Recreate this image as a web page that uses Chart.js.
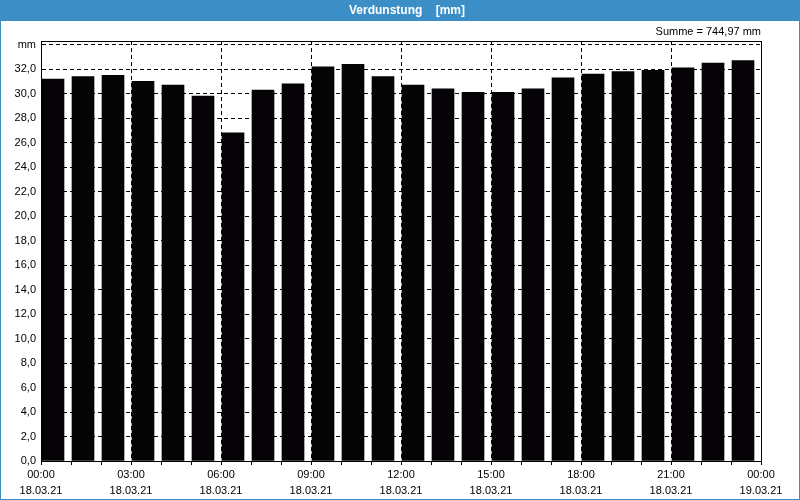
<!DOCTYPE html>
<html>
<head>
<meta charset="utf-8">
<script src="https://cdn.jsdelivr.net/npm/chart.js@4/dist/chart.umd.min.js"></script>
<style>
  html, body { margin: 0; padding: 0; background: #fff; }
  #wrap { width: 800px; height: 500px; position: relative; }
</style>
</head>
<body>
<div id="wrap"><canvas id="verdunstung" width="800" height="500"></canvas></div>
<script>
// hourly evaporation, 18.03.21 00:00 .. 23:00
const hours = [0, 1, 2, 3, 4, 5, 6, 7, 8, 9, 10, 11, 12, 13, 14, 15, 16, 17, 18, 19, 20, 21, 22, 23];
const values = [31.2, 31.4, 31.5, 31.0, 30.7, 29.8, 26.8, 30.3, 30.8, 32.2, 32.4, 31.4,
                30.7, 30.4, 30.1, 30.1, 30.4, 31.3, 31.6, 31.8, 31.9, 32.1, 32.5, 32.7];

const tickHours = [0, 3, 6, 9, 12, 15, 18, 21, 24];
const tickTimes = ["00:00", "03:00", "06:00", "09:00", "12:00", "15:00", "18:00", "21:00", "00:00"];
const tickDates = ["18.03.21", "18.03.21", "18.03.21", "18.03.21", "18.03.21", "18.03.21", "18.03.21", "18.03.21", "19.03.21"];

const titleText = "Verdunstung    [mm]";
const sumText = "Summe = 744,97 mm";
const unitLabel = "mm";

const blue = "#3b8fc6";
const font = "'Liberation Sans', Arial, sans-serif";

// title band, outer frame, plot box and the sum text
const frame = {
    id: "frame",
    beforeDraw(chart) {
        const ctx = chart.ctx;
        ctx.save();
        ctx.fillStyle = "#fff";
        ctx.fillRect(0, 0, 800, 500);
        ctx.fillStyle = blue;
        ctx.fillRect(0, 0, 800, 21);
        ctx.strokeStyle = blue;
        ctx.lineWidth = 1;
        ctx.strokeRect(0.5, 0.5, 799, 499);
        ctx.fillStyle = "#fff";
        ctx.font = "bold 12px " + font;
        ctx.textAlign = "center";
        ctx.textBaseline = "middle";
        ctx.fillText(titleText, 407, 10.5);
        ctx.fillStyle = "#000";
        ctx.font = "11px " + font;
        ctx.textAlign = "right";
        ctx.fillText(sumText, chart.chartArea.right, 32);
        ctx.restore();
    },
    afterDraw(chart) {
        const a = chart.chartArea;
        const ctx = chart.ctx;
        ctx.save();
        ctx.strokeStyle = "#000";
        ctx.lineWidth = 1;
        ctx.strokeRect(Math.round(a.left) + 0.5, Math.round(a.top) + 0.5,
            Math.round(a.right - a.left), Math.round(a.bottom - a.top));
        ctx.restore();
    }
};

new Chart(document.getElementById("verdunstung"), {
    type: "bar",
    data: {
        datasets: [{
            label: "Verdunstung",
            data: hours.map((h, i) => ({ x: h, y: values[i] })),
            xAxisID: "xb",
            backgroundColor: "#050306",
            borderWidth: 0,
            barThickness: 22,
        }],
    },
    options: {
        responsive: false,
        animation: false,
        events: [],
        layout: { padding: { left: 0, right: 39, top: 41, bottom: 0 } },
        plugins: {
            legend: { display: false },
            tooltip: { enabled: false },
        },
        scales: {
            xb: {
                type: "linear",
                display: false,
                offset: false,
                min: -0.4,
                max: 23.6,
            },
            x: {
                type: "linear",
                position: "bottom",
                offset: false,
                min: 0,
                max: 24,
                afterFit: (s) => { s.height = 39; },
                border: { display: true, color: "#000", width: 1, dash: [4, 3] },
                grid: {
                    offset: false,
                    color: (c) => (c.tick && c.tick.value % 3 === 0 ? "#000" : "rgba(0,0,0,0)"),
                    tickColor: "#000",
                    tickLength: 4,
                    lineWidth: 1,
                },
                ticks: {
                    stepSize: 1,
                    autoSkip: false,
                    maxRotation: 0,
                    padding: 2,
                    color: "#000",
                    font: { family: font, size: 11, lineHeight: 1.45 },
                    callback: (v) => {
                        const k = tickHours.indexOf(v);
                        return k < 0 ? "" : [tickTimes[k], tickDates[k]];
                    },
                },
            },
            y: {
                min: 0,
                max: 34.3,
                afterFit: (s) => { s.width = 41; },
                afterBuildTicks: (s) => { s.ticks = s.ticks.filter((t) => t.value % 2 === 0); },
                border: { display: true, color: "#000", width: 1, dash: [4, 3] },
                grid: {
                    color: "#000",
                    drawTicks: false,
                    lineWidth: 1,
                },
                ticks: {
                    stepSize: 2,
                    includeBounds: false,
                    padding: 5,
                    color: "#000",
                    font: { family: font, size: 11 },
                    callback: (v) => (v === 34 ? unitLabel : v.toFixed(1).replace(".", ",")),
                },
            },
        },
    },
    plugins: [frame],
});
</script>
</body>
</html>
